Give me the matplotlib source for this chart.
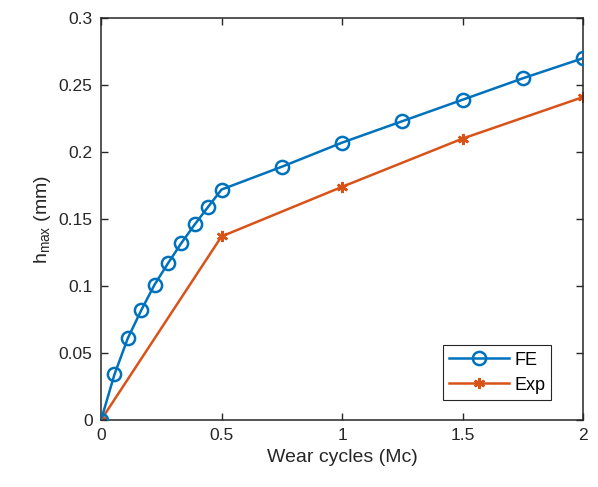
import numpy as np
import matplotlib.pyplot as plt

plt.rcParams['font.family'] = ['Liberation Sans', 'DejaVu Sans']

# FE results
fe_x = [0, 0.0556, 0.111, 0.167, 0.222, 0.278, 0.333, 0.389, 0.444, 0.5,
        0.75, 1.0, 1.25, 1.5, 1.75, 2.0]
fe_h = [0, 0.034, 0.061, 0.082, 0.101, 0.117, 0.132, 0.146, 0.159, 0.172,
        0.189, 0.207, 0.223, 0.239, 0.255, 0.270]

# experimental results
exp_x = [0, 0.5, 1.0, 1.5, 2.0]
exp_h = [0, 0.137, 0.174, 0.210, 0.241]

x_ticks = [0, 0.5, 1, 1.5, 2]
y_ticks = [0, 0.05, 0.1, 0.15, 0.2, 0.25, 0.3]

fig = plt.figure(figsize=(5.98, 4.87), dpi=100)
ax = fig.add_axes([0.169, 0.1376, 0.806, 0.8254])

ax.plot(fe_x, fe_h, color='#0072BD', lw=1.8, marker='o', ms=9.5,
        mfc='none', mew=1.8, label='FE', zorder=3)
ax.plot(exp_x, exp_h, color='#D95319', lw=1.8, marker=(6, 2, 0), ms=8,
        mew=1.8, label='Exp', zorder=2)

ax.set_xlim(0, 2)
ax.set_ylim(0, 0.3)
ax.set_xticks(x_ticks)
ax.set_yticks(y_ticks)
ax.set_xticklabels(['%g' % v for v in x_ticks])
ax.set_yticklabels(['%g' % v for v in y_ticks])
ax.tick_params(direction='in', length=5, width=1.0, labelsize=12.5,
               top=True, right=True, colors='#262626', pad=6)
for s in ax.spines.values():
    s.set_color('#262626')
    s.set_linewidth(1.1)

ax.set_xlabel('Wear cycles (Mc)', fontsize=14, color='#262626')
ax.set_ylabel(r'h$_{\mathregular{max}}$ (mm)', fontsize=14, color='#262626')

leg = ax.legend(loc='lower right', fontsize=13, fancybox=False,
                edgecolor='#262626', framealpha=1, borderpad=0.35,
                handlelength=3.3, handletextpad=0.3, labelspacing=0.45,
                bbox_to_anchor=(0.953, 0.027))
leg.get_frame().set_linewidth(0.8)

fig.savefig('out.png', dpi=100)
